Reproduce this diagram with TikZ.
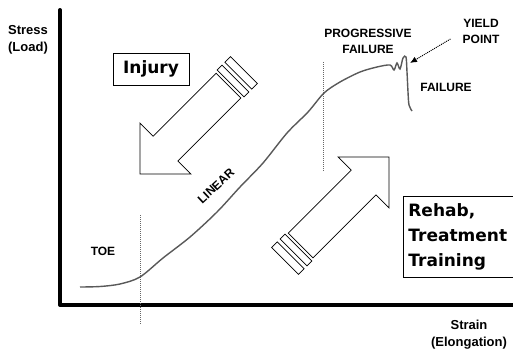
\documentclass[tikz,border=0pt]{standalone}
\usepackage{fontspec}
\setmainfont{Liberation Sans}
\newfontfamily\handfont{DejaVu Sans}
\usetikzlibrary{arrows.meta}
\tikzset{
  lbl/.style={font=\bfseries\fontsize{12}{16}\selectfont, align=center, inner sep=0pt},
  axislbl/.style={font=\bfseries\fontsize{13}{17}\selectfont, align=center, inner sep=0pt},
  axis/.style={line width=4pt, line join=round, line cap=round},
  guide/.style={densely dotted, black!60, line width=1pt},
  curve/.style={line width=1.4pt, black!65},
  tag/.style={draw, line width=0.8pt, font=\handfont\bfseries\fontsize{17}{25}\selectfont},
  bigarrow/.style={draw, line width=0.7pt, fill=white},
  pointer/.style={densely dotted, line width=1pt, -{Latex[length=7pt,width=6pt]}},
}
\begin{document}
\begin{tikzpicture}[x=1pt,y=-1pt]
    \useasboundingbox (0,0) rectangle (513,354);
    % Ejes
    \coordinate (top) at (60,10);
    \coordinate (origin) at (60,305);
    \coordinate (right) at (530,305);
    \draw[axis] (top) -- (origin) -- (right);
    \node[axislbl] (stress) at (28,40) {Stress\\(Load)};
    \node[axislbl] (strain) at (469,335) {Strain\\(Elongation)};

    % Divisiones
    \draw[guide] (140,215) -- (140,324);
    \draw[guide] (323,62) -- (323,172);

    % Curva
    \draw[curve] plot[smooth, tension=0.5] coordinates {
        (80,287) (100,286.5) (120,284) (140,277) (163,258) (190,237)
        (217,212) (240,187) (263,163) (287,133) (308,112) (324,93)
        (340,82) (360,72) (377,67) (390,65) (394,70) (397,63) (400,69)
        (403,58) (406,57) (407,72) (408,92) (409,105) (412,111)};

    % Zonas
    \node[lbl] (toe) at (103,251) {TOE};
    \node[lbl, rotate=43] (linear) at (216,186) {LINEAR};
    \node[lbl] (progfail) at (368,41) {PROGRESSIVE\\FAILURE};
    \node[lbl] (failure) at (446,87) {FAILURE};
    \node[lbl] (yield) at (481,31) {YIELD\\POINT};
    \coordinate (ytail) at ([xshift=-12pt,yshift=-8pt]yield.west);
    \coordinate (ypeak) at (410,63);
    \draw[pointer] (ytail) -- (ypeak);

    % Flechas
    \foreach \tx/\ty/\ang in {140/174/45, 389/157/225} {
        \begin{scope}[shift={(\tx,\ty)}, rotate=\ang]
            \draw[bigarrow] (0,0) -- (36,36) -- (36,17.5) -- (125,17.5)
                -- (125,-17.5) -- (36,-17.5) -- (36,-36) -- cycle;
            \foreach \a/\b in {128/135, 139/147}
                \draw[bigarrow] (\a,-19) rectangle (\b,19);
        \end{scope}
    }

    % Cajas
    \node[tag, minimum width=76pt, minimum height=32pt, inner sep=0pt] (injury) at (151,69) {Injury};
    \node[tag, anchor=north west, align=left, text width=120pt, minimum height=81pt,
        inner xsep=5pt] (rehab) at (403,196) {Rehab,\\Treatment\\Training};
\end{tikzpicture}
\end{document}
